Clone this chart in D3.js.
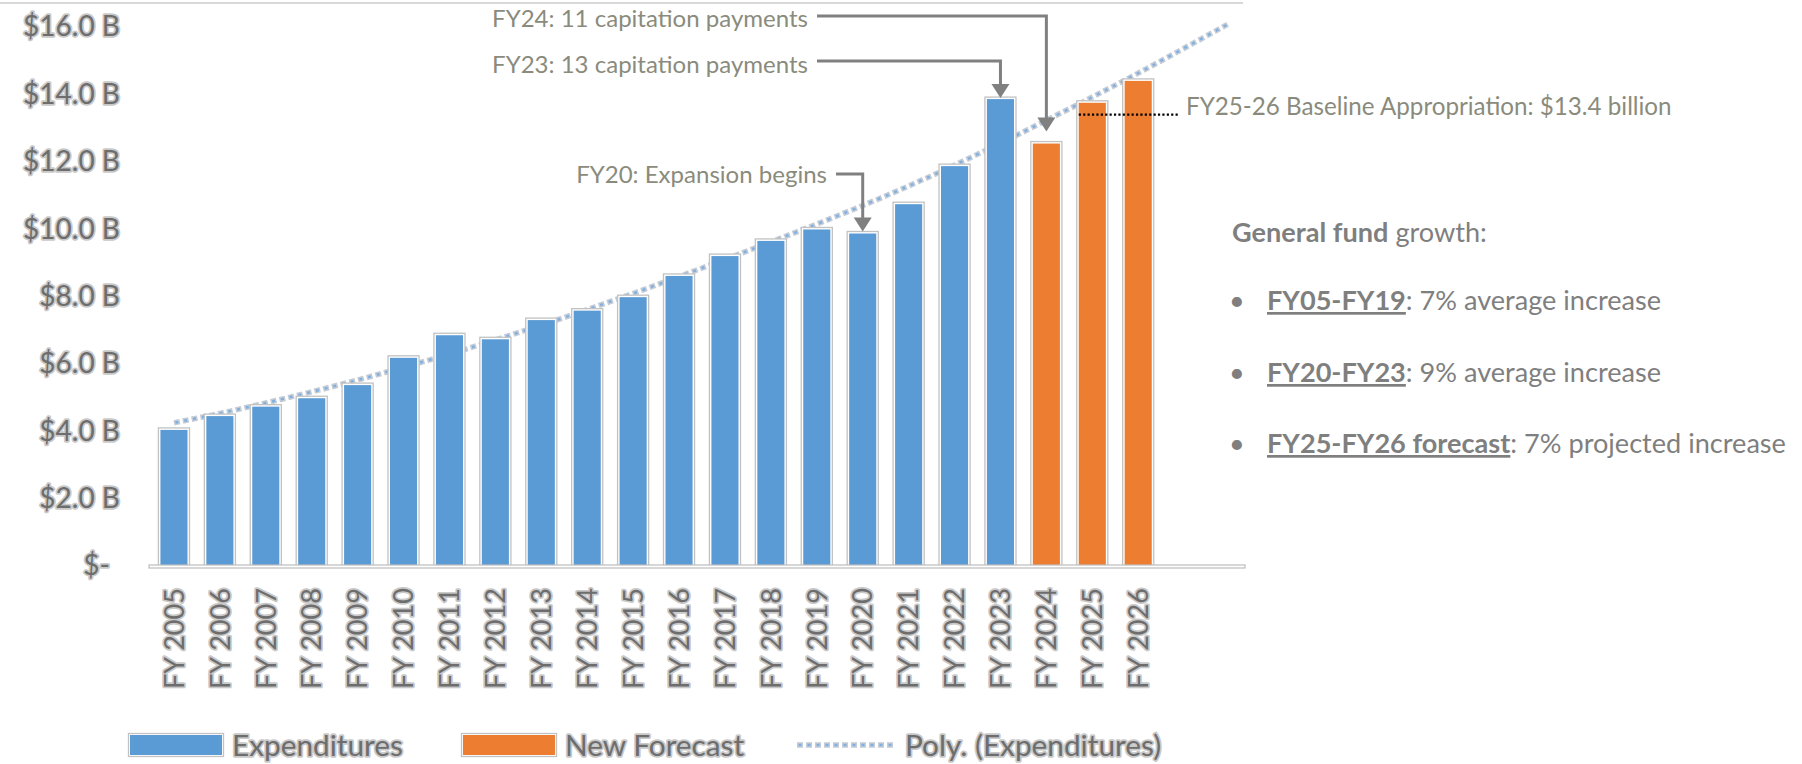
<!DOCTYPE html>
<html><head><meta charset="utf-8">
<script src="https://cdn.jsdelivr.net/npm/d3@7"></script>
<style>
body{margin:0;background:#fff;}
svg{display:block;font-family:Lato,'Open Sans',sans-serif;}
</style>
</head><body>
<svg id="c" width="1802" height="764"></svg>
<script>
// ---------------- data ----------------
const categories = ["FY 2005","FY 2006","FY 2007","FY 2008","FY 2009","FY 2010","FY 2011","FY 2012",
  "FY 2013","FY 2014","FY 2015","FY 2016","FY 2017","FY 2018","FY 2019","FY 2020","FY 2021",
  "FY 2022","FY 2023","FY 2024","FY 2025","FY 2026"];
// $ billions
const expenditures = [4.04,4.45,4.73,4.98,5.37,6.18,6.85,6.73,7.30,7.58,7.98,8.61,9.20,9.65,9.99,
  9.87,10.74,11.87,13.86,null,null,null];
const newForecast = [null,null,null,null,null,null,null,null,null,null,null,null,null,null,null,
  null,null,null,null,12.54,13.75,14.40];
// polynomial trendline (2 periods forward forecast)
const polyTrend = [4.25,4.53,4.84,5.17,5.52,5.90,6.29,6.71,7.15,7.61,8.09,8.59,9.10,9.62,10.15,
  10.70,11.28,11.90,12.55,13.23,13.92,14.63,15.37,16.12];
const yTicks = [0,2,4,6,8,10,12,14,16];
const seriesNames = ["Expenditures","New Forecast","Poly. (Expenditures)"];
const annotationCats = ["FY 2024","FY 2023","FY 2020"];
const annotationTexts = ["FY24: 11 capitation payments","FY23: 13 capitation payments","FY20: Expansion begins"];
const baselineAppropriation = 13.4;
const baselineText = "FY25-26 Baseline Appropriation: $13.4 billion";
const panelTitleBold = "General fund";
const panelTitleRest = " growth:";
const bulletBold = ["FY05-FY19","FY20-FY23","FY25-FY26 forecast"];
const bulletRest = [": 7% average increase",": 9% average increase",": 7% projected increase"];

// ---------------- setup ----------------
const svg = d3.select("#c");
const BLUE = "#5B9BD5", ORANGE = "#ED7D31";
const x = d3.scaleBand().domain(d3.range(polyTrend.length)).range([151,1253])
  .paddingInner(0.41).paddingOuter(0.205);
const y = d3.scaleLinear().domain([0,16]).range([566,27]);
const cx = i => x(i) + x.bandwidth()/2;
const idx = c => categories.indexOf(c);

function fit(sel, target){
  sel.attr("font-size",100);
  const w = sel.node().getComputedTextLength();
  const fs = 100*target/w;
  sel.attr("font-size",fs);
  return fs;
}
function haloText(sel){
  sel.attr("fill","#6d6d6d").attr("stroke","#c9c9c9").attr("stroke-width",3.5)
    .attr("stroke-linejoin","round").style("paint-order","stroke");
}

// top border
svg.append("line").attr("x1",0).attr("x2",1243).attr("y1",3).attr("y2",3)
  .attr("stroke","#d9d9d9").attr("stroke-width",2);

// ---------------- y axis ----------------
const yAxis = svg.append("g").attr("transform","translate(120,0)")
  .call(d3.axisLeft(y).tickValues(yTicks).tickSize(0).tickPadding(0)
    .tickFormat(d => d===0 ? "$-" : "$" + d.toFixed(1) + " B"));
yAxis.select(".domain").remove();
const yfs = (()=>{ const t = svg.append("text").text("$16.0 B"); const f = fit(t,97); t.remove(); return f; })();
yAxis.selectAll("text").attr("font-family","Lato").attr("font-size",yfs)
  .attr("x", d => d===0 ? -10 : 0).call(haloText);

// ---------------- trendline (behind bars) ----------------
const line = d3.line().x((d,i)=>cx(i)).y(d=>y(d)).curve(d3.curveMonotoneX);
function trendStyle(g){
  g.append("path").attr("fill","none").attr("stroke","#c5ccd6").attr("stroke-width",5.5)
    .attr("stroke-dasharray","6 3");
  g.append("path").attr("fill","none").attr("stroke","#7fb0e0").attr("stroke-width",2.5)
    .attr("stroke-dasharray","3 6").attr("stroke-dashoffset",-1.5);
}
const tg = svg.append("g"); trendStyle(tg);
tg.selectAll("path").attr("d", line(polyTrend));

// ---------------- bars ----------------
const bars = categories.map((c,i)=>({i, v: expenditures[i]!=null ? expenditures[i] : newForecast[i],
  color: expenditures[i]!=null ? BLUE : ORANGE}));
const bg = svg.append("g");
bg.selectAll("rect.halo").data(bars).join("rect").attr("class","halo")
  .attr("x",d=>x(d.i)-2).attr("y",d=>y(d.v)-2).attr("width",x.bandwidth()+4)
  .attr("height",d=>y(0)-y(d.v)+2).attr("fill","#fff").attr("stroke","#c2c2c2").attr("stroke-width",1.3);
bg.selectAll("rect.bar").data(bars).join("rect").attr("class","bar")
  .attr("x",d=>x(d.i)).attr("y",d=>y(d.v)).attr("width",x.bandwidth())
  .attr("height",d=>y(0)-y(d.v)).attr("fill",d=>d.color);

// baseline (category axis line)
svg.append("rect").attr("x",x.range()[0]-2).attr("y",y(0)-1).attr("width",x.range()[1]-x.range()[0]-6)
  .attr("height",3).attr("fill","#fff").attr("stroke","#bdbdbd").attr("stroke-width",1.2);

// ---------------- x axis labels ----------------
const xAxis = svg.append("g").attr("transform",`translate(0,${y(0)})`)
  .call(d3.axisBottom(x).tickValues(d3.range(categories.length)).tickSize(0)
    .tickFormat(i=>categories[i]));
xAxis.select(".domain").remove();
const xfs = (()=>{ const t = svg.append("text").text("FY 2005"); const f = fit(t,101); t.remove(); return f; })();
xAxis.selectAll("text").attr("font-family","Lato").attr("font-size",xfs)
  .attr("transform","rotate(-90)").attr("text-anchor","end")
  .attr("x",-22).attr("y",0).attr("dy","0.36em").call(haloText);

// ---------------- annotations ----------------
const annLayout = [
  {textEnd:808, baseY:27, lineY:16, gap:12},
  {textEnd:808, baseY:73, lineY:61, gap:1},
  {textEnd:827, baseY:183, lineY:174, gap:2}
];
const ANN_COL = "#8a8b7c";
const annFs = (()=>{ const t = svg.append("text").text(annotationTexts[2]); const f = fit(t,251); t.remove(); return f; })();
annotationCats.forEach((c,k)=>{
  const L = annLayout[k], i = idx(c);
  const v = expenditures[i]!=null ? expenditures[i] : newForecast[i];
  const tipY = y(v) - L.gap, ax = cx(i);
  svg.append("text").attr("x",L.textEnd).attr("y",L.baseY).attr("text-anchor","end")
    .attr("font-size",annFs).attr("fill",ANN_COL).text(annotationTexts[k]);
  svg.append("path").attr("fill","none").attr("stroke","#808080").attr("stroke-width",3)
    .attr("d",`M${L.textEnd+9},${L.lineY}H${ax}V${tipY-13}`);
  svg.append("path").attr("fill","#808080")
    .attr("d",`M${ax-9},${tipY-14}L${ax+9},${tipY-14}L${ax},${tipY}Z`);
});

// baseline appropriation
const ba = y(baselineAppropriation);
svg.append("line").attr("x1",x(idx("FY 2025"))).attr("x2",1178).attr("y1",ba).attr("y2",ba)
  .attr("stroke","#000").attr("stroke-width",2.2).attr("stroke-dasharray","2.2 2.2");
const bt = svg.append("text").attr("x",1186).attr("y",ba+0.5).attr("fill",ANN_COL).text(baselineText);
fit(bt,486);

// ---------------- right panel ----------------
const PCOL = "#7f7f7f";
const title = svg.append("text").attr("x",1232).attr("y",242).attr("fill",PCOL);
title.append("tspan").attr("font-weight",700).text(panelTitleBold);
title.append("tspan").text(panelTitleRest);
const pfs = fit(title,255);
const rowsY = [310,382,453];
bulletBold.forEach((b,k)=>{
  svg.append("text").attr("x",1229).attr("y",rowsY[k]).attr("font-size",pfs).attr("fill",PCOL).text("•");
  const t = svg.append("text").attr("x",1267).attr("y",rowsY[k]).attr("font-size",pfs).attr("fill",PCOL);
  t.append("tspan").attr("font-weight",700).style("text-decoration","underline").text(b);
  t.append("tspan").text(bulletRest[k]);
});

// ---------------- legend ----------------
const legX = [130,463,793];
const lfs = (()=>{ const t = svg.append("text").text(seriesNames[0]); const f = fit(t,171); t.remove(); return f; })();
seriesNames.forEach((n,k)=>{
  const g = svg.append("g").attr("transform",`translate(${legX[k]},745)`);
  if(k<2){
    g.append("rect").attr("x",-1.5).attr("y",-11.5).attr("width",95).attr("height",23)
      .attr("fill","#fff").attr("stroke","#c2c2c2").attr("stroke-width",1.3);
    g.append("rect").attr("x",0).attr("y",-10).attr("width",92).attr("height",20)
      .attr("fill",k===0?BLUE:ORANGE);
  } else {
    trendStyle(g);
    g.selectAll("path").attr("d","M4,0H102");
  }
  g.append("text").attr("x",k<2?102:112).attr("y",0).attr("dy","0.36em")
    .attr("font-size",lfs).text(n).call(haloText);
});
</script>
</body></html>
